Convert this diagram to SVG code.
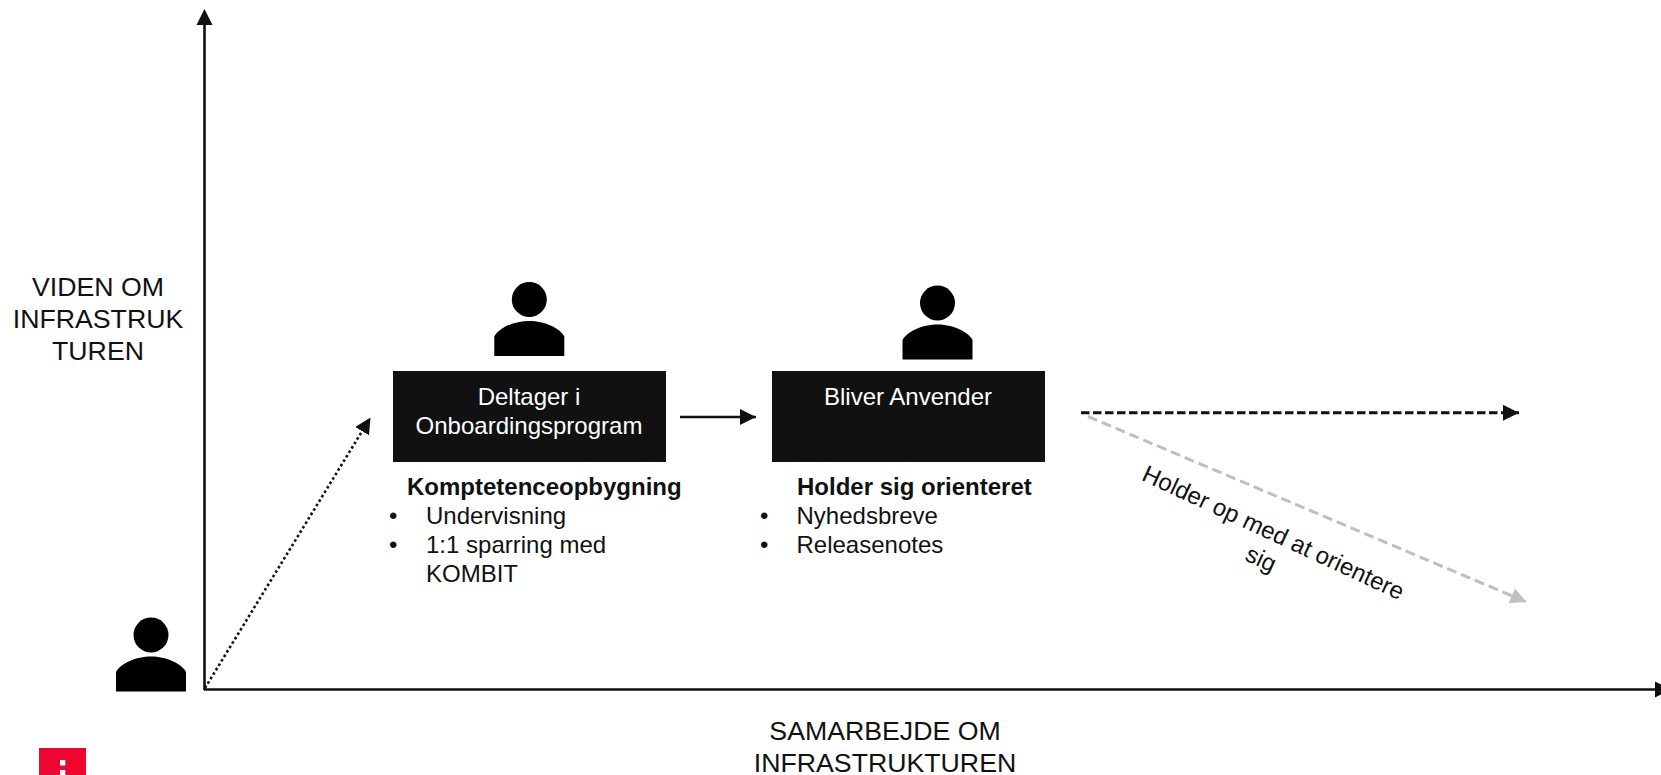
<svg xmlns="http://www.w3.org/2000/svg" width="1661" height="775" viewBox="0 0 1661 775">
<style>
text{font-family:"Liberation Sans",Arial,sans-serif;font-size:24px;fill:#111}
.w{fill:#fff}.m{text-anchor:middle}.b{font-weight:bold}
.a{font-size:26.700px}
.l{fill:none;stroke:#111;stroke-width:2.600}
</style>
<defs>
<marker id="ah" markerUnits="userSpaceOnUse" markerWidth="16" markerHeight="16" refX="16" refY="8" orient="auto"><path d="M0 0L16 8L0 16Z" fill="#111"/></marker>
<marker id="ag" markerUnits="userSpaceOnUse" markerWidth="16" markerHeight="16" refX="16" refY="8" orient="auto"><path d="M0 0L16 8L0 16Z" fill="#bfbfbf"/></marker>
<g id="p"><circle cx="0" cy="0" r="17.500" fill="#000"/><path d="M-35 56.500V37C-30 28-15 21.500 0 21.500S30 28 35 37V56.500Z" fill="#000"/></g>
</defs>
<g id="connectors">
<path class="l" d="M204.500 24V690"/>
<path d="M204.500 9L212.500 25H196.500Z" fill="#111"/>
<path class="l" d="M204 689.500H1661"/>
<path d="M1655 681.500L1671 689.500L1655 697.500Z" fill="#111"/>
<path class="l" d="M205 688L370.500 417.500" stroke-dasharray="2.600 2.600" marker-end="url(#ah)"/>
<path class="l" d="M680 417H756" marker-end="url(#ah)"/>
<path class="l" style="stroke-width:3" d="M1081 412.800H1519" stroke-dasharray="8.500 3.500" marker-end="url(#ah)"/>
<path class="l" style="stroke:#bfbfbf;stroke-width:3" d="M1088 416.500L1526.500 602" stroke-dasharray="10 5" marker-end="url(#ag)"/>
</g>
<g id="y-label"><text class="a m" x="98" y="296">VIDEN OM</text><text class="a m" x="98" y="328">INFRASTRUK</text><text class="a m" x="98" y="360">TUREN</text></g>
<g id="x-label"><text class="a m" x="885" y="740">SAMARBEJDE OM</text><text class="a m" x="885" y="772">INFRASTRUKTUREN</text></g>
<g id="person-start"><use href="#p" x="151" y="635"/></g>
<g id="person-1"><use href="#p" x="529.300" y="299.500"/></g>
<g id="person-2"><use href="#p" x="937.500" y="303"/></g>
<g id="node-deltager"><rect x="393" y="371" width="273" height="91" fill="#111"/>
<text class="w m" x="529" y="405">Deltager i</text><text class="w m" x="529" y="434">Onboardingsprogram</text></g>
<g id="node-anvender"><rect x="772" y="371" width="273" height="91" fill="#111"/>
<text class="w m" x="908" y="405">Bliver Anvender</text></g>
<g id="list-1"><text class="b" x="407" y="495">Komptetenceopbygning</text>
<text x="389" y="524">•</text><text x="426" y="524">Undervisning</text>
<text x="389" y="553">•</text><text x="426" y="553">1:1 sparring med</text><text x="426" y="582">KOMBIT</text></g>
<g id="list-2"><text class="b" x="797" y="495">Holder sig orienteret</text>
<text x="760" y="524">•</text><text x="796.500" y="524">Nyhedsbreve</text>
<text x="760" y="553">•</text><text x="796.500" y="553">Releasenotes</text></g>
<g id="label-stop" transform="translate(1270 540) rotate(25)"><text class="m" x="0" y="0">Holder op med at orientere</text><text class="m" x="0" y="29">sig</text></g>
<g id="logo"><rect x="39" y="748" width="47" height="27" fill="#ee0530"/><rect x="60" y="760" width="5.300" height="5.500" fill="#fff"/><rect x="60" y="770" width="5.300" height="5" fill="#fff"/></g>
</svg>
